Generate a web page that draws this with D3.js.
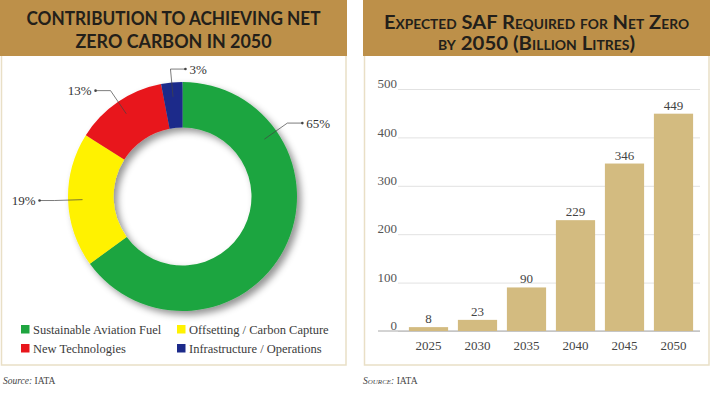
<!DOCTYPE html>
<html lang='en'>
  <head>
    <meta charset='utf-8'>
    <title>SAF and Net Zero</title>
    <script type='text/javascript' src='https://cdn.jsdelivr.net/npm/d3@7/dist/d3.min.js'></script>
    <style type='text/css'>
      body { margin: 0; background-color: white; }
      svg { display: block; }
    </style>
  </head>
  <body>
    <div id='chart'></div>
    <script type='text/javascript'>

    // Data: contribution to net zero (%)
    var shareNames = ['Sustainable Aviation Fuel', 'Offsetting / Carbon Capture', 'New Technologies', 'Infrastructure / Operations'];
    var shares = [65, 19, 13, 3];
    var shareColors = ['#1fa540', '#fff200', '#e8161c', '#1c2a8a'];

    // Data: SAF required (billion litres)
    var years = ['2025', '2030', '2035', '2040', '2045', '2050'];
    var safLitres = [8, 23, 90, 229, 346, 449];
    var yTicks = [0, 100, 200, 300, 400, 500];

    var W = 710, H = 393;
    var tan = '#bd9049', border = '#e9dfc6';
    var serif = "'Liberation Serif', 'DejaVu Serif', serif";

    var svg = d3.select('#chart')
      .append('svg')
      .attr('width', W)
      .attr('height', H);

    var defs = svg.append('defs');
    var shadow = defs.append('filter').attr('id', 'shadow')
      .attr('x', '-20%').attr('y', '-20%').attr('width', '140%').attr('height', '140%');
    shadow.append('feDropShadow')
      .attr('dx', 4).attr('dy', 4).attr('stdDeviation', 3.5)
      .attr('flood-color', '#000').attr('flood-opacity', 0.42);

    // Panels + headers
    var panels = [
      { x: 0, w: 347, lines: ['CONTRIBUTION TO ACHIEVING NET', 'ZERO CARBON IN 2050'], lens: [294, 196], ys: [25, 48], caps: false },
      { x: 363, w: 347, lines: ['Expected SAF Required for Net Zero', 'by 2050 (Billion Litres)'], lens: [305, 197], ys: [29, 50], caps: true }
    ];

    panels.forEach(function(p) {
      svg.append('rect')
        .attr('x', p.x + 1.5).attr('y', 0.5)
        .attr('width', p.w - 2.5).attr('height', 364.5)
        .attr('fill', 'white')
        .attr('stroke', border)
        .attr('stroke-width', 1.5);
      svg.append('rect')
        .attr('x', p.x).attr('y', 0)
        .attr('width', p.w).attr('height', 56)
        .attr('fill', tan);
      p.lines.forEach(function(t, i) {
        svg.append('text')
          .attr('x', p.x + p.w / 2)
          .attr('y', p.ys[i])
          .attr('text-anchor', 'middle')
          .attr('textLength', p.lens[i])
          .attr('lengthAdjust', 'spacingAndGlyphs')
          .style('font-family', 'Lato, "Open Sans", sans-serif')
          .style('font-weight', 'bold')
          .style('font-size', p.caps ? '19px' : '18.5px')
          .style('font-variant', p.caps ? 'small-caps' : 'normal')
          .attr('fill', '#231f1a')
          .text(t);
      });
    });

    // ---------- Donut ----------
    var cx = 182.5, cy = 196.5, rOuter = 114.5, rInner = 69;

    var pie = d3.pie().sort(null).value(function(d) { return d; });
    var arcs = pie(shares);
    var arc = d3.arc().innerRadius(rInner).outerRadius(rOuter);

    var donut = svg.append('g')
      .attr('transform', 'translate(' + cx + ',' + cy + ')');

    donut.append('g')
      .attr('filter', 'url(#shadow)')
      .selectAll('path')
      .data(arcs)
      .enter()
      .append('path')
      .attr('d', arc)
      .attr('fill', function(d, i) { return shareColors[i]; });

    // leader lines
    function pt(r, a) { return [r * Math.sin(a), -r * Math.cos(a)]; }
    function labelAngle(d) {
      // big slice: the label sits high on the right like the original
      if (d.endAngle - d.startAngle > Math.PI) return d.startAngle + 0.96;
      return (d.startAngle + d.endAngle) / 2;
    }

    var labels = donut.append('g');
    arcs.forEach(function(d, i) {
      var a = labelAngle(d);
      var p0 = pt(100, a), p1 = pt(128, a);
      var dir = Math.sin(a) > -0.2 ? 1 : -1;
      var p2 = [p1[0] + dir * 15, p1[1]];
      labels.append('polyline')
        .attr('points', [p0, p1, p2].map(function(p) { return p.join(','); }).join(' '))
        .attr('fill', 'none')
        .attr('stroke', '#444')
        .attr('stroke-width', 0.7);
      labels.append('circle')
        .attr('cx', p2[0]).attr('cy', p2[1]).attr('r', 1.3)
        .attr('fill', '#444');
      labels.append('text')
        .attr('x', p2[0] + dir * 4)
        .attr('y', p2[1])
        .attr('dy', '0.35em')
        .attr('text-anchor', dir > 0 ? 'start' : 'end')
        .style('font-family', serif)
        .style('font-size', '13px')
        .attr('fill', '#333')
        .text(shares[i] + '%');
    });

    // legend 2x2
    var legend = svg.append('g').selectAll('g')
      .data(shareNames)
      .enter()
      .append('g')
      .attr('transform', function(d, i) {
        return 'translate(' + (i % 2 ? 177 : 21) + ',' + (i < 2 ? 325 : 344) + ')';
      });
    legend.append('rect')
      .attr('width', 8.5).attr('height', 8.5)
      .attr('fill', function(d, i) { return shareColors[i]; });
    legend.append('text')
      .attr('x', 12).attr('y', 9)
      .style('font-family', serif)
      .style('font-size', '12.5px')
      .attr('fill', '#3b3b3b')
      .text(function(d) { return d; });

    // ---------- Bars ----------
    var x = d3.scaleBand()
      .domain(years)
      .range([404, 698])
      .paddingInner(0.2)
      .paddingOuter(0.1);

    var y = d3.scaleLinear()
      .domain([0, 500])
      .range([331, 89]);

    // gridlines + y labels
    var yAxis = d3.axisLeft(y)
      .tickValues(yTicks)
      .tickSize(-302)
      .tickPadding(1);

    var gy = svg.append('g')
      .attr('transform', 'translate(398,0)')
      .call(yAxis);
    gy.select('.domain').remove();
    gy.selectAll('line').attr('stroke', '#e2e2e2');
    gy.selectAll('text')
      .attr('dy', '-0.1em')
      .style('font-family', serif)
      .style('font-size', '13px')
      .attr('fill', '#555');

    svg.append('line')
      .attr('x1', 378).attr('x2', 700)
      .attr('y1', y(0)).attr('y2', y(0))
      .attr('stroke', '#a8a8a8');

    svg.append('g').selectAll('rect')
      .data(safLitres)
      .enter()
      .append('rect')
      .attr('x', function(d, i) { return x(years[i]); })
      .attr('y', function(d) { return y(d); })
      .attr('width', x.bandwidth())
      .attr('height', function(d) { return y(0) - y(d); })
      .attr('fill', '#d3bb80');

    svg.append('g').selectAll('text')
      .data(safLitres)
      .enter()
      .append('text')
      .attr('x', function(d, i) { return x(years[i]) + x.bandwidth() / 2; })
      .attr('y', function(d) { return y(d) - 4; })
      .attr('text-anchor', 'middle')
      .style('font-family', serif)
      .style('font-size', '13px')
      .attr('fill', '#444')
      .text(function(d) { return d; });

    var gx = svg.append('g')
      .attr('transform', 'translate(0,' + y(0) + ')')
      .call(d3.axisBottom(x).tickSize(0).tickPadding(10));
    gx.select('.domain').remove();
    gx.selectAll('text')
      .style('font-family', serif)
      .style('font-size', '13px')
      .attr('fill', '#444');

    // sources
    [[3, false], [363, true]].forEach(function(s) {
      var t = svg.append('text')
        .attr('x', s[0]).attr('y', 384)
        .style('font-family', serif)
        .style('font-size', '9.5px')
        .attr('fill', '#444');
      t.append('tspan')
        .style('font-style', 'italic')
        .style('font-variant', s[1] ? 'small-caps' : 'normal')
        .text('Source:');
      t.append('tspan').text(' IATA');
    });

    </script>
  </body>
</html>
